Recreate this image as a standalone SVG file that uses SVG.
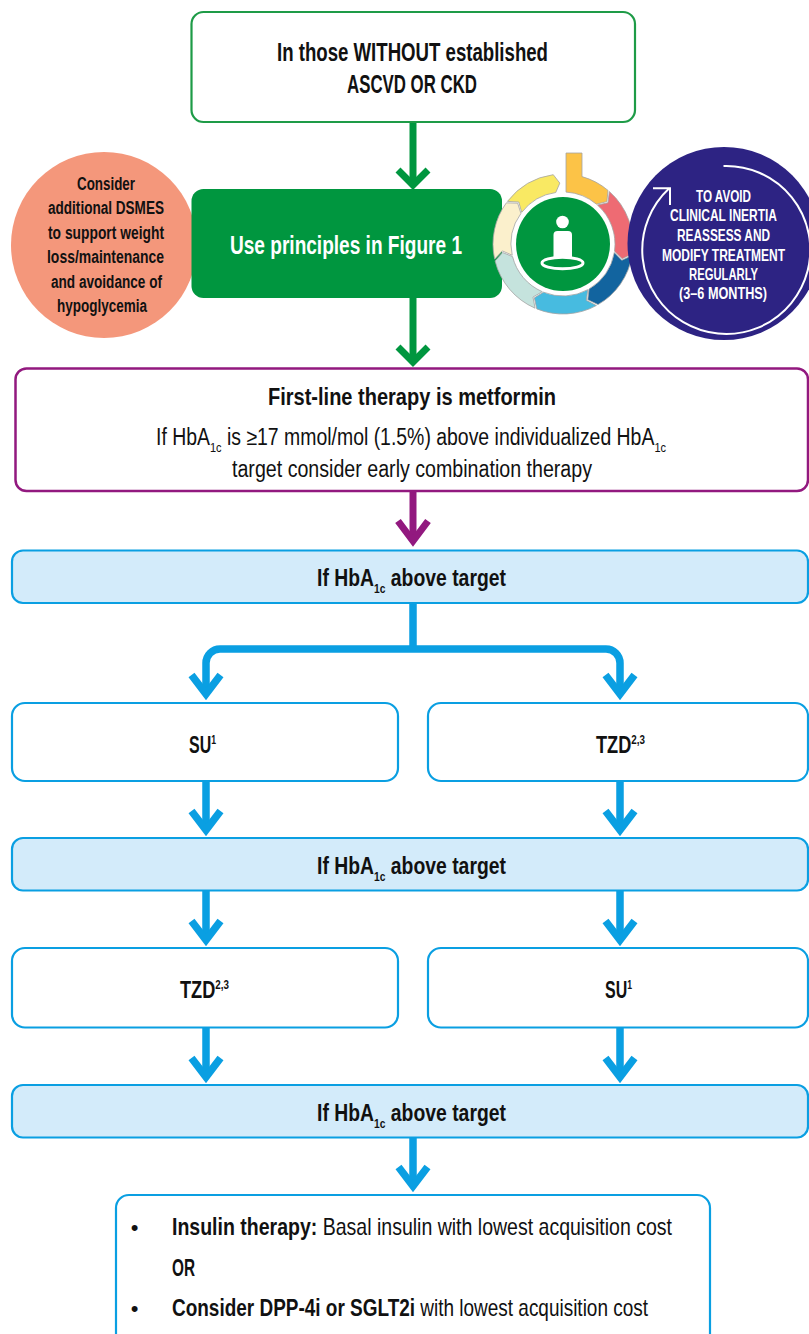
<svg xmlns="http://www.w3.org/2000/svg" width="809" height="1334" viewBox="0 0 809 1334">
<style>
text{font-family:'Liberation Sans Narrow','Liberation Sans',Arial,sans-serif;fill:#111}
.b{font-weight:bold}
.r{font-weight:normal}
.w{fill:#fff}
.bluebox{fill:#d3ebfa;stroke:#0a9fe2;stroke-width:2.2}
.whitebox{fill:#fff;stroke:#0a9fe2;stroke-width:2.2}
.seg{stroke:#a3a3a3;stroke-width:0.8}
.ab{fill:none;stroke:#0a9fe2;stroke-width:7.5;stroke-linejoin:miter;stroke-linecap:butt}
.ag{fill:none;stroke:#00963f;stroke-width:7;stroke-linejoin:miter;stroke-linecap:butt}
.ap{fill:none;stroke:#92197f;stroke-width:7;stroke-linejoin:miter;stroke-linecap:butt}
</style>
<rect width="809" height="1334" fill="#fff"/>

<g id="connectors">
<path class="ag" d="M413,122 V183"/>
<path class="ag" d="M398,170 L413,185 L428,170"/>
<path class="ag" d="M413,298 V361"/>
<path class="ag" d="M398,347 L413,362 L428,347"/>
<path class="ap" d="M413,491 V540"/>
<path class="ap" d="M398,521 L413,541 L428,521"/>
<path class="ab" d="M413,603 V649 M206,694 V663 A14,14 0 0 1 220,649 H606 A14,14 0 0 1 620,663 V694"/>
<path class="ab" d="M191.5,675 L206,694 L220.5,675 M605.5,675 L620,694 L634.5,675"/>
<path class="ab" d="M206,781 V830 M620,781 V830"/>
<path class="ab" d="M191.5,811 L206,830 L220.5,811 M605.5,811 L620,830 L634.5,811"/>
<path class="ab" d="M206,890 V940 M620,890 V940"/>
<path class="ab" d="M191.5,921 L206,940 L220.5,921 M605.5,921 L620,940 L634.5,921"/>
<path class="ab" d="M206,1027 V1077 M620,1027 V1077"/>
<path class="ab" d="M191.5,1058 L206,1077 L220.5,1058 M605.5,1058 L620,1077 L634.5,1058"/>
<path class="ab" d="M413,1137 V1186"/>
<path class="ab" d="M398.5,1167 L413,1186 L427.5,1167"/>
</g>

<g id="start">
<rect x="191.5" y="12" width="443.5" height="110" rx="12" fill="#fff" stroke="#1e9b47" stroke-width="2.2"/>
<text class="b" x="277" y="61" font-size="25" textLength="271" lengthAdjust="spacingAndGlyphs">In those WITHOUT established</text>
<text class="b" x="347" y="93" font-size="25" textLength="130" lengthAdjust="spacingAndGlyphs">ASCVD OR CKD</text>
</g>

<g id="dsmes">
<circle cx="104" cy="245" r="93" fill="#f4977b"/>
<text class="b" x="77" y="189.5" font-size="17.5" textLength="58" lengthAdjust="spacingAndGlyphs">Consider</text>
<text class="b" x="48" y="214" font-size="17.5" textLength="116" lengthAdjust="spacingAndGlyphs">additional DSMES</text>
<text class="b" x="48" y="238.5" font-size="17.5" textLength="116" lengthAdjust="spacingAndGlyphs">to support weight</text>
<text class="b" x="47" y="263" font-size="17.5" textLength="117" lengthAdjust="spacingAndGlyphs">loss/maintenance</text>
<text class="b" x="51" y="287.5" font-size="17.5" textLength="111" lengthAdjust="spacingAndGlyphs">and avoidance of</text>
<text class="b" x="57" y="312" font-size="17.5" textLength="90" lengthAdjust="spacingAndGlyphs">hypoglycemia</text>
</g>

<g id="principles">
<rect x="191.5" y="189" width="310.5" height="109" rx="12" fill="#00963f"/>
<text class="b w" x="230" y="254" font-size="25" textLength="232" lengthAdjust="spacingAndGlyphs">Use principles in Figure 1</text>
</g>

<g id="cycle">
<path class="seg" fill="#fcc347" d="M566,153 H582 V176.6 A70,70 0 0 1 608,190.38 L606.88,201.62 L596.43,204.17 A52,52 0 0 0 566,192.09 Z"/>
<path class="seg" fill="#ee6b73" d="M609.38,191.57 A70,70 0 0 1 632.32,253.74 L622.19,258.76 L614.50,251.24 A52,52 0 0 0 597.46,205.05 L607.98,202.79 Z"/>
<path class="seg" fill="#12649f" d="M632.04,255.55 A70,70 0 0 1 598,304.62 L587.81,299.72 L589,289.03 A52,52 0 0 0 614.29,252.58 L621.78,260.30 Z"/>
<path class="seg" fill="#47bbe0" d="M596.40,305.52 A70,70 0 0 1 536.78,308.90 L534.36,297.86 L543.52,292.21 A52,52 0 0 0 587.81,289.70 L586.34,300.36 Z"/>
<path class="seg" fill="#c5e3dd" d="M535.09,308.20 A70,70 0 0 1 495.08,260.93 L502.59,252.49 L512.54,256.58 A52,52 0 0 0 542.27,291.69 L532.96,297.09 Z"/>
<path class="seg" fill="#fbf0cc" d="M494.66,259.15 A70,70 0 0 1 506.37,202.85 L517.67,203.18 L520.93,213.43 A52,52 0 0 0 512.23,255.25 L502.39,250.91 Z"/>
<path class="seg" fill="#f9e963" d="M507.46,201.38 A70,70 0 0 1 553.26,174.68 L559.81,183.09 L555.76,192.50 A52,52 0 0 0 521.74,212.34 L518.75,202.01 Z"/>
<circle cx="563" cy="244" r="47" fill="#00963f"/>
<circle cx="562.5" cy="222" r="6.3" fill="#fff"/>
<path fill="#fff" d="M553.5,258 V235 Q553.5,231 557.5,231 H568 Q572,231 572,235 V258 Z"/>
<ellipse cx="562.5" cy="263" rx="20.5" ry="5.8" fill="none" stroke="#fff" stroke-width="3"/>
</g>

<g id="inertia">
<circle cx="724" cy="243.5" r="96.5" fill="#2d2383"/>
<path d="M723.5,166 A84,84 0 1 1 669,188.5" fill="none" stroke="#fff" stroke-width="2"/>
<path d="M653,188.3 H670 V205" fill="none" stroke="#fff" stroke-width="2"/>
<text class="b w" x="696" y="201.5" font-size="16.5" textLength="55" lengthAdjust="spacingAndGlyphs">TO AVOID</text>
<text class="b w" x="670" y="221" font-size="16.5" textLength="107" lengthAdjust="spacingAndGlyphs">CLINICAL INERTIA</text>
<text class="b w" x="677" y="240.5" font-size="16.5" textLength="93" lengthAdjust="spacingAndGlyphs">REASSESS AND</text>
<text class="b w" x="662" y="260.5" font-size="16.5" textLength="123" lengthAdjust="spacingAndGlyphs">MODIFY TREATMENT</text>
<text class="b w" x="689" y="280" font-size="16.5" textLength="69" lengthAdjust="spacingAndGlyphs">REGULARLY</text>
<text class="b w" x="679" y="298.5" font-size="16.5" textLength="88" lengthAdjust="spacingAndGlyphs">(3–6 MONTHS)</text>
</g>

<g id="metformin">
<rect x="15.5" y="368.5" width="792.5" height="122.5" rx="11" fill="#fff" stroke="#92197f" stroke-width="2.5"/>
<text class="b" x="268" y="405" font-size="24.5" textLength="288" lengthAdjust="spacingAndGlyphs">First-line therapy is metformin</text>
<text class="r" x="156" y="445" font-size="23" textLength="510" lengthAdjust="spacingAndGlyphs">If HbA<tspan font-size="13" dy="7">1c</tspan><tspan dy="-7"> is ≥17 mmol/mol (1.5%) above individualized HbA</tspan><tspan font-size="13" dy="7">1c</tspan></text>
<text class="r" x="232" y="477" font-size="23" textLength="360" lengthAdjust="spacingAndGlyphs">target consider early combination therapy</text>
</g>

<g id="check1">
<rect class="bluebox" x="12" y="550.5" width="796" height="52.5" rx="11"/>
<text class="b" x="317" y="586" font-size="24.5" textLength="189" lengthAdjust="spacingAndGlyphs">If HbA<tspan font-size="13" dy="7">1c</tspan><tspan dy="-7"> above target</tspan></text>
</g>

<g id="su1">
<rect class="whitebox" x="12" y="703" width="386" height="78" rx="13"/>
<text class="b" x="189" y="753" font-size="24" textLength="27" lengthAdjust="spacingAndGlyphs">SU<tspan font-size="13" dy="-9">1</tspan></text>
</g>

<g id="tzd1">
<rect class="whitebox" x="428" y="703" width="380" height="78" rx="13"/>
<text class="b" x="596" y="753" font-size="24" textLength="49" lengthAdjust="spacingAndGlyphs">TZD<tspan font-size="13" dy="-9">2,3</tspan></text>
</g>

<g id="check2">
<rect class="bluebox" x="12" y="838" width="796" height="52.5" rx="11"/>
<text class="b" x="317" y="874" font-size="24.5" textLength="189" lengthAdjust="spacingAndGlyphs">If HbA<tspan font-size="13" dy="7">1c</tspan><tspan dy="-7"> above target</tspan></text>
</g>

<g id="tzd2">
<rect class="whitebox" x="12" y="948" width="386" height="79.5" rx="13"/>
<text class="b" x="180" y="998" font-size="24" textLength="49" lengthAdjust="spacingAndGlyphs">TZD<tspan font-size="13" dy="-9">2,3</tspan></text>
</g>

<g id="su2">
<rect class="whitebox" x="428" y="948" width="380" height="79.5" rx="13"/>
<text class="b" x="605" y="998" font-size="24" textLength="27" lengthAdjust="spacingAndGlyphs">SU<tspan font-size="13" dy="-9">1</tspan></text>
</g>

<g id="check3">
<rect class="bluebox" x="12" y="1085" width="796" height="52.5" rx="11"/>
<text class="b" x="317" y="1121" font-size="24.5" textLength="189" lengthAdjust="spacingAndGlyphs">If HbA<tspan font-size="13" dy="7">1c</tspan><tspan dy="-7"> above target</tspan></text>
</g>

<g id="options">
<rect class="whitebox" x="116" y="1195" width="594" height="170" rx="13"/>
<text class="r" x="134.5" y="1235" font-size="22" text-anchor="middle">•</text>
<text x="172" y="1235" font-size="24" textLength="500" lengthAdjust="spacingAndGlyphs"><tspan class="b">Insulin therapy:</tspan><tspan class="r"> Basal insulin with lowest acquisition cost</tspan></text>
<text class="b" x="172" y="1276" font-size="24" textLength="23" lengthAdjust="spacingAndGlyphs">OR</text>
<text class="r" x="134.5" y="1316" font-size="22" text-anchor="middle">•</text>
<text x="172" y="1316" font-size="24" textLength="476" lengthAdjust="spacingAndGlyphs"><tspan class="b">Consider DPP-4i or SGLT2i</tspan><tspan class="r"> with lowest acquisition cost</tspan></text>
</g>
</svg>
